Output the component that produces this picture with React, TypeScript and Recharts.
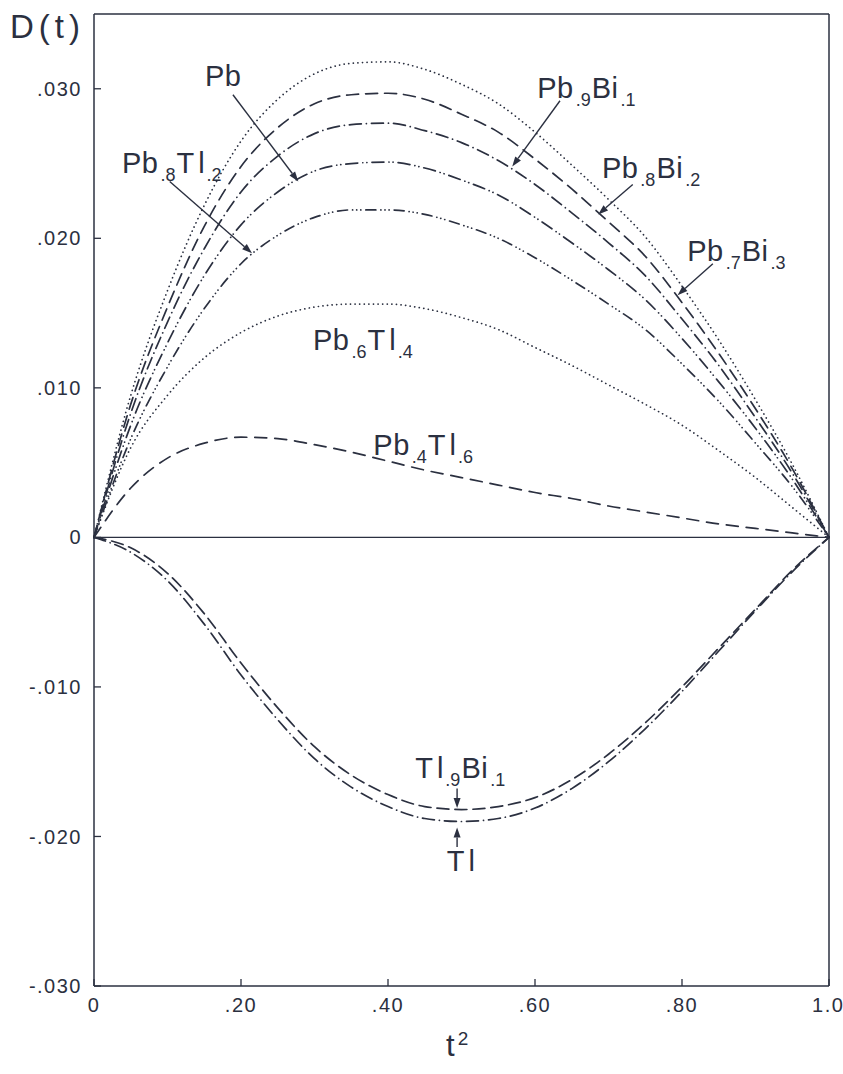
import React from 'react';
import { LineChart, Line, XAxis, YAxis, ReferenceLine, ReferenceDot } from 'recharts';

const INK = '#2b3040';
const FONT = '"Liberation Sans", Arial, sans-serif';

// t^2 sample points
const T2 = [0, 0.05, 0.1, 0.15, 0.2, 0.25, 0.3, 0.35, 0.4, 0.45, 0.5, 0.55, 0.6, 0.65, 0.7, 0.75, 0.8, 0.85, 0.9, 0.95, 1.0];

// D(t) per alloy
const PB7BI3 = [0, 0.0095, 0.0165, 0.0222, 0.0265, 0.0293, 0.031, 0.0317, 0.0318, 0.0313, 0.0303, 0.029, 0.0271, 0.0249, 0.0226, 0.0201, 0.0168, 0.0132, 0.0092, 0.0049, 0];
const PB8BI2 = [0, 0.0089, 0.0154, 0.0208, 0.0248, 0.0274, 0.029, 0.0296, 0.0297, 0.0293, 0.0283, 0.0271, 0.0253, 0.0233, 0.0211, 0.0188, 0.0157, 0.0123, 0.0086, 0.0046, 0];
const PB9BI1 = [0, 0.0083, 0.0144, 0.0193, 0.0231, 0.0255, 0.027, 0.0276, 0.0277, 0.0272, 0.0264, 0.0252, 0.0236, 0.0217, 0.0197, 0.0175, 0.0146, 0.0115, 0.008, 0.0043, 0];
const PB = [0, 0.0075, 0.013, 0.0175, 0.0209, 0.0231, 0.0245, 0.025, 0.0251, 0.0247, 0.0239, 0.0229, 0.0214, 0.0197, 0.0179, 0.0159, 0.0133, 0.0104, 0.0073, 0.0039, 0];
const PB8TL2 = [0, 0.0066, 0.0114, 0.0153, 0.0183, 0.0202, 0.0214, 0.0219, 0.0219, 0.0216, 0.0209, 0.02, 0.0187, 0.0172, 0.0156, 0.0139, 0.0116, 0.0091, 0.0063, 0.0034, 0];
const PB6TL4 = [0, 0.006, 0.0095, 0.012, 0.0137, 0.0148, 0.0154, 0.0156, 0.0156, 0.0153, 0.0147, 0.0139, 0.0127, 0.0115, 0.0102, 0.0089, 0.0075, 0.0058, 0.004, 0.002, 0];
const PB4TL6 = [0, 0.0033, 0.0053, 0.0063, 0.0067, 0.0066, 0.0062, 0.0057, 0.0051, 0.0045, 0.004, 0.0035, 0.003, 0.0026, 0.0021, 0.0017, 0.0013, 0.0009, 0.0006, 0.0003, 0];
const TL9BI1 = [0, -0.0007, -0.0024, -0.0051, -0.0084, -0.0114, -0.014, -0.0159, -0.0172, -0.018, -0.0182, -0.018, -0.0174, -0.0162, -0.0145, -0.0124, -0.01, -0.0074, -0.0048, -0.0022, 0];
const TL = [0, -0.001, -0.0029, -0.0058, -0.0092, -0.0122, -0.0148, -0.0167, -0.018, -0.0188, -0.019, -0.0188, -0.0181, -0.0168, -0.015, -0.0128, -0.0103, -0.0076, -0.0049, -0.0023, 0];

const X_TICKS = [0, 0.2, 0.4, 0.6, 0.8, 1.0];
const X_TICK_LABELS = ['0', '.20', '.40', '.60', '.80', '1.0'];
const Y_TICKS = [-0.03, -0.02, -0.01, 0, 0.01, 0.02, 0.03];
const Y_TICK_LABELS = ['-.030', '-.020', '-.010', '0', '.010', '.020', '.030'];

// curve styles: key, data, dash pattern
const SERIES: [string, number[], string][] = [
  ['pb7bi3', PB7BI3, '0.1 4.5'],
  ['pb8bi2', PB8BI2, '12 7'],
  ['pb9bi1', PB9BI1, '12 5 0.1 5'],
  ['pb', PB, '12 5 0.1 4 0.1 5'],
  ['pb8tl2', PB8TL2, '10 5 0.1 4 0.1 4 0.1 5'],
  ['pb6tl4', PB6TL4, '0.1 4.5'],
  ['pb4tl6', PB4TL6, '12 8'],
  ['tl9bi1', TL9BI1, '12 6'],
  ['tl', TL, '12 5 0.1 5'],
];

const data = T2.map((t, i) => {
  const row: Record<string, number> = { t };
  SERIES.forEach(([key, vals]) => { row[key] = vals[i]; });
  return row;
});

// curve labels: [main, subscript] pairs, anchored at (t^2, D)
type Part = [string, string];
const LABELS: { t: number; v: number; parts: Part[] }[] = [
  { t: 0.151, v: 0.0302, parts: [['Pb', '']] },
  { t: 0.038, v: 0.0244, parts: [['Pb', '.8'], ['Tl', '.2']] },
  { t: 0.603, v: 0.0294, parts: [['Pb', '.9'], ['Bi', '.1']] },
  { t: 0.691, v: 0.024, parts: [['Pb', '.8'], ['Bi', '.2']] },
  { t: 0.807, v: 0.0185, parts: [['Pb', '.7'], ['Bi', '.3']] },
  { t: 0.298, v: 0.0125, parts: [['Pb', '.6'], ['Tl', '.4']] },
  { t: 0.38, v: 0.0055, parts: [['Pb', '.4'], ['Tl', '.6']] },
  { t: 0.437, v: -0.0161, parts: [['Tl', '.9'], ['Bi', '.1']] },
  { t: 0.48, v: -0.0223, parts: [['Tl', '']] },
];

// pointer arrows from labels to curves
const ARROWS = [
  { x1: 0.189, y1: 0.0296, x2: 0.278, y2: 0.0238 },
  { x1: 0.103, y1: 0.0238, x2: 0.215, y2: 0.019 },
  { x1: 0.634, y1: 0.0292, x2: 0.569, y2: 0.0248 },
  { x1: 0.733, y1: 0.0236, x2: 0.686, y2: 0.0216 },
  { x1: 0.842, y1: 0.0183, x2: 0.794, y2: 0.0162 },
  { x1: 0.494, y1: -0.0168, x2: 0.494, y2: -0.0181 },
  { x1: 0.494, y1: -0.0207, x2: 0.494, y2: -0.0194 },
];

const ChemText = ({ x, y, parts }: { x: number; y: number; parts: Part[] }) => (
  <text x={x} y={y} fill={INK} fontFamily={FONT} fontSize={29}>
    {parts.map(([main, sub], i) => (
      <React.Fragment key={i}>
        <tspan fontSize={29} letterSpacing={main === 'Tl' ? 4 : 0.5} dy={i > 0 ? -8 : 0} dx={i > 0 ? 1 : 0}>{main}</tspan>
        {sub && <tspan fontSize={18} dy={8} dx={main === 'Tl' ? -2 : 2}>{sub}</tspan>}
      </React.Fragment>
    ))}
  </text>
);

const Arrow = (p: any) => {
  const { x1, y1, x2, y2 } = p;
  const ang = Math.atan2(y2 - y1, x2 - x1);
  const len = 10;
  const w = 3.5;
  const bx = x2 - len * Math.cos(ang);
  const by = y2 - len * Math.sin(ang);
  const px = -Math.sin(ang) * w;
  const py = Math.cos(ang) * w;
  return (
    <g>
      <line x1={x1} y1={y1} x2={bx} y2={by} stroke={INK} strokeWidth={1.4} />
      <polygon points={`${x2},${y2} ${bx + px},${by + py} ${bx - px},${by - py}`} fill={INK} />
    </g>
  );
};

const tickStyle = { fill: INK, fontSize: 20, fontFamily: FONT, letterSpacing: 1.5 };

export default function App() {
  return (
    <div style={{ position: 'absolute', left: 0, top: 0, width: 843, height: 1074, background: '#fff' }}>
      <div style={{ position: 'absolute', left: 10, top: 8, fontFamily: FONT, fontSize: 33, color: INK, letterSpacing: 5 }}>
        D(t)
      </div>
      <div style={{ position: 'absolute', left: 446, top: 1028, fontFamily: FONT, fontSize: 31, color: INK }}>
        t<sup style={{ fontSize: 19, marginLeft: 3 }}>2</sup>
      </div>
      <LineChart width={843} height={1074} data={data} margin={{ top: 14, right: 14, bottom: 0, left: 0 }}>
        <XAxis
          dataKey="t"
          type="number"
          domain={[0, 1]}
          ticks={X_TICKS}
          tickFormatter={(v: number) => X_TICK_LABELS[X_TICKS.indexOf(v)]}
          height={88}
          tickSize={-7}
          tickMargin={19}
          axisLine={{ stroke: INK, strokeWidth: 1.5 }}
          tickLine={{ stroke: INK, strokeWidth: 1.3 }}
          tick={tickStyle}
        />
        <YAxis
          type="number"
          domain={[-0.03, 0.035]}
          ticks={Y_TICKS}
          tickFormatter={(v: number) => Y_TICK_LABELS[Y_TICKS.indexOf(v)]}
          width={94}
          tickSize={-7}
          tickMargin={19}
          axisLine={{ stroke: INK, strokeWidth: 1.5 }}
          tickLine={{ stroke: INK, strokeWidth: 1.3 }}
          tick={tickStyle}
          allowDataOverflow
        />
        <ReferenceLine y={0.035} stroke={INK} strokeWidth={1.5} />
        <ReferenceLine x={1} stroke={INK} strokeWidth={1.5} />
        <ReferenceLine y={0} stroke={INK} strokeWidth={1.3} />
        {SERIES.map(([key, , dash]) => (
          <Line
            key={key}
            type="monotone"
            dataKey={key}
            stroke={INK}
            strokeWidth={1.7}
            strokeDasharray={dash}
            strokeLinecap="round"
            dot={false}
            activeDot={false}
            isAnimationActive={false}
          />
        ))}
        {ARROWS.map((a, i) => (
          <ReferenceLine
            key={`a${i}`}
            segment={[{ x: a.x1, y: a.y1 }, { x: a.x2, y: a.y2 }]}
            shape={(p: any) => <Arrow {...p} />}
          />
        ))}
        {LABELS.map((l, i) => (
          <ReferenceDot
            key={`l${i}`}
            x={l.t}
            y={l.v}
            r={0}
            ifOverflow="visible"
            shape={(p: any) => <ChemText x={p.cx} y={p.cy} parts={l.parts} />}
          />
        ))}
      </LineChart>
    </div>
  );
}
